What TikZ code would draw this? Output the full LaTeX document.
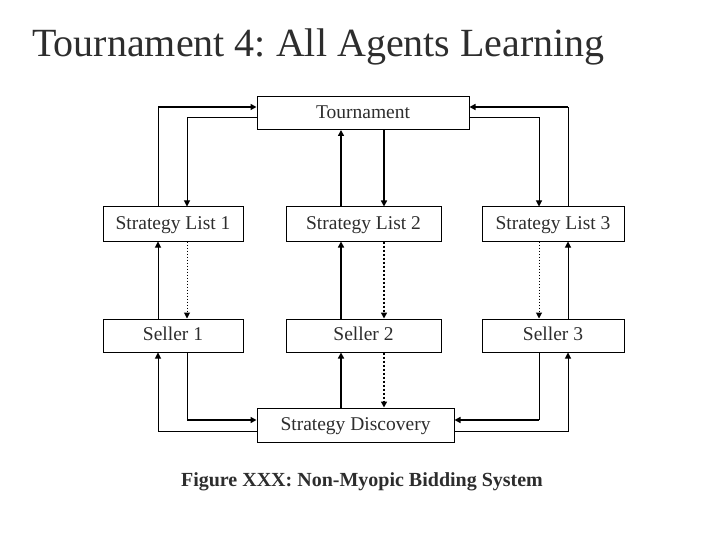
\documentclass[tikz,border=0pt]{standalone}
\usepackage{fontspec}
\setmainfont{Liberation Serif}
\usetikzlibrary{arrows.meta,positioning}
\definecolor{TextGray}{RGB}{45,45,45}
\tikzset{
    box/.style={draw=black, line width=1pt, inner sep=0pt, align=center, minimum height=33pt,
        text height=14pt, text depth=3.5pt,
        font=\fontsize{19.5}{22}\selectfont, text=TextGray},
    link/.style={line width=1pt, -{Triangle[length=6pt,width=6pt]}},
    plain/.style={line width=1pt},
    heavy/.style={line width=2pt},
}
\frenchspacing

\begin{document}
\begin{tikzpicture}[x=1pt, y=-1pt]
    \useasboundingbox (0,0) rectangle (720,540);
    \node[anchor=base west, inner sep=0pt, text=TextGray, font=\fontsize{40}{48}\selectfont] (title) at (32,57) {Tournament 4: All Agents Learning};

    % boxes
    \node[box, minimum width=212pt] (tour) at (363,113) {Tournament};
    \node[box, minimum width=140pt, minimum height=34pt] (sl1) at (173,224) {Strategy List 1};
    \node[box, minimum width=155pt, minimum height=34pt] (sl2) at (363.5,224) {Strategy List 2};
    \node[box, minimum width=142pt, minimum height=34pt] (sl3) at (553,224) {Strategy List 3};
    \node[box, minimum width=140pt] (sel1) at (173,335.5) {Seller 1};
    \node[box, minimum width=155pt] (sel2) at (363.5,335.5) {Seller 2};
    \node[box, minimum width=142pt] (sel3) at (553,335.5) {Seller 3};
    \node[box, minimum width=197pt, minimum height=34pt] (disc) at (355.5,425) {Strategy Discovery};

    % columns and rows of the connectors
    \coordinate (a1) at (158,0);  \coordinate (b1) at (187,0);
    \coordinate (a2) at (341,0);  \coordinate (b2) at (384,0);
    \coordinate (a3) at (568,0);  \coordinate (b3) at (539,0);
    \coordinate (ra) at (0,107);  \coordinate (rb) at (0,118);
    \coordinate (rc) at (0,420);  \coordinate (rd) at (0,431);

    % tournament <-> strategy lists
    \draw[plain] (a1 |- sl1.north) -- (a1 |- ra);
    \draw[link, heavy] (a1 |- ra) -- (tour.west |- ra);
    \draw[link] (tour.west |- rb) -| (b1 |- sl1.north);
    \draw[link, heavy] (a2 |- sl2.north) -- (a2 |- tour.south);
    \draw[link, heavy] (b2 |- tour.south) -- (b2 |- sl2.north);
    \draw[plain] (a3 |- sl3.north) -- (a3 |- ra);
    \draw[link, heavy] (a3 |- ra) -- (tour.east |- ra);
    \draw[link] (tour.east |- rb) -| (b3 |- sl3.north);

    % strategy lists <-> sellers
    \draw[link] (a1 |- sel1.north) -- (a1 |- sl1.south);
    \draw[link, dotted] (b1 |- sl1.south) -- (b1 |- sel1.north);
    \draw[link, heavy] (a2 |- sel2.north) -- (a2 |- sl2.south);
    \draw[link, heavy, dotted] (b2 |- sl2.south) -- (b2 |- sel2.north);
    \draw[link] (a3 |- sel3.north) -- (a3 |- sl3.south);
    \draw[link, dotted] (b3 |- sl3.south) -- (b3 |- sel3.north);

    % sellers <-> strategy discovery
    \draw[plain] (b1 |- sel1.south) -- (b1 |- rc);
    \draw[link, heavy] (b1 |- rc) -- (disc.west |- rc);
    \draw[link] (disc.west |- rd) -| (a1 |- sel1.south);
    \draw[link, heavy] (a2 |- disc.north) -- (a2 |- sel2.south);
    \draw[link, heavy, dotted] (b2 |- sel2.south) -- (b2 |- disc.north);
    \draw[plain] (b3 |- sel3.south) -- (b3 |- rc);
    \draw[link, heavy] (b3 |- rc) -- (disc.east |- rc);
    \draw[link] (disc.east |- rd) -| (a3 |- sel3.south);

    \node[anchor=base, inner sep=0pt, text=TextGray, font=\bfseries\fontsize{20}{24}\selectfont] (caption) at (362,486) {Figure XXX: Non-Myopic Bidding System};
\end{tikzpicture}
\end{document}
